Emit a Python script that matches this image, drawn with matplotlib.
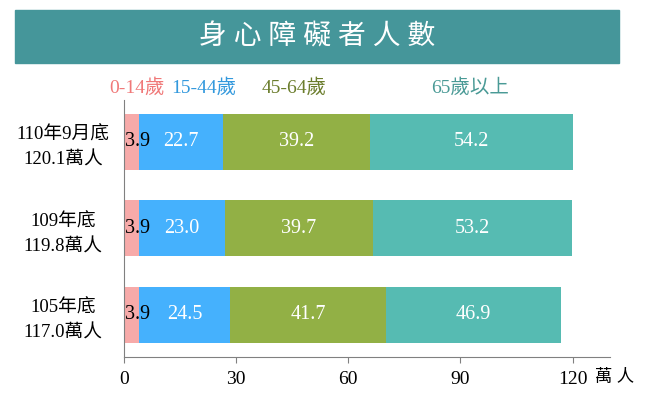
import matplotlib
matplotlib.use("Agg")
import matplotlib.pyplot as plt
from matplotlib.patches import Rectangle
import numpy as np

plt.rcParams['font.family'] = ['Liberation Serif', 'Noto Sans CJK TC']

# data
periods = ["110年9月底\n120.1萬人", "109年底\n119.8萬人", "105年底\n117.0萬人"]
groups = ["0-14歲", "15-44歲", "45-64歲", "65歲以上"]
age_0_14 = [3.9, 3.9, 3.9]
age_15_44 = [22.7, 23.0, 24.5]
age_45_64 = [39.2, 39.7, 41.7]
age_65 = [54.2, 53.2, 46.9]
xticks = [0, 30, 60, 90, 120]

bar_colors = ["#f7aaa9", "#45b1fd", "#92b045", "#56bbb2"]
legend_colors = ["#f07878", "#3399dd", "#6b7d2c", "#4a9a96"]
label_colors = ["black", "white", "white", "white"]

fig = plt.figure(figsize=(6.46, 3.97), dpi=100)
ax = fig.add_axes([124/646, 1 - 357/397, (610-124)/646, (357-100)/397])

# title banner
fig.patches.append(Rectangle((15/646, 1 - 63/397), (619-15)/646, 53/397,
                             transform=fig.transFigure, color="#45969a", zorder=0))
fig.text(317/646, 1 - 37/397, "身 心 障 礙 者 人 數", color="white", fontsize=20,
         ha="center", va="center")

series = [age_0_14, age_15_44, age_45_64, age_65]
ypos = np.arange(len(periods))[::-1]
left = np.zeros(len(periods))
for i, vals in enumerate(series):
    vals = np.array(vals)
    ax.barh(ypos, vals, left=left, height=0.645, color=bar_colors[i], edgecolor="none")
    for y, l, v in zip(ypos, left, vals):
        if i == 0:
            ax.text(l + v * 0.9, y, f"{v:.1f}", ha="center", va="center",
                    color=label_colors[i], fontsize=14.5)
        else:
            ax.text(l + v / 2, y, f"{v:.1f}", ha="center", va="center",
                    color=label_colors[i], fontsize=14.5)
    left += vals

ax.set_xlim(0, 130)
ax.set_ylim(-0.485, 2.48)
ax.set_xticks(xticks)
ax.set_xticklabels([str(t) for t in xticks], fontsize=14)
ax.set_yticks(ypos)
ax.set_yticklabels(periods, fontsize=13.5, linespacing=1.6)
for lab in ax.get_yticklabels():
    lab.set_ha("center")
    lab.set_multialignment("center")
ax.tick_params(axis="y", length=0, pad=44)
ax.tick_params(axis="x", length=4, color="#808080", pad=6, direction="out")
for s in ["top", "right"]:
    ax.spines[s].set_visible(False)
for s in ["left", "bottom"]:
    ax.spines[s].set_color("#808080")

fig.text(615/646, 1 - 378/397, "萬 人", fontsize=12.5, ha="center", va="center")

# legend row
legend_x = [137, 204, 294, 470]
for name, c, x in zip(groups, legend_colors, legend_x):
    fig.text(x/646, 1 - 88/397, name, color=c, fontsize=14, ha="center", va="center")

fig.savefig("out.png", dpi=100)
